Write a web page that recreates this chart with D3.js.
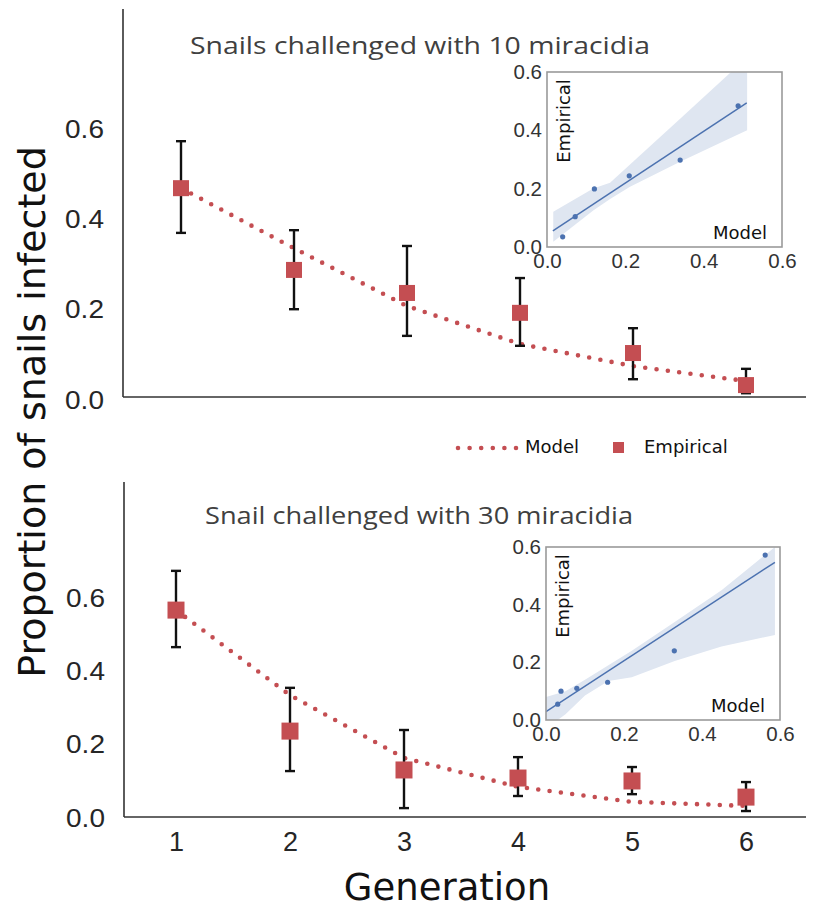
<!DOCTYPE html>
<html>
<head>
<meta charset="utf-8">
<script src="https://cdn.jsdelivr.net/npm/d3@7"></script>
<style>
  html, body { margin: 0; padding: 0; background: #fff; }
  svg { display: block; }
</style>
</head>
<body>
<svg id="chart" width="814" height="907"></svg>
<script>
// ---------------- DATA ----------------
const generations = [1, 2, 3, 4, 5, 6];
const yTickValues = [0, 0.2, 0.4, 0.6];
const insetTickValues = [0, 0.2, 0.4, 0.6];

// Top panel: 10 miracidia
const topModel = [0.469, 0.336, 0.208, 0.124, 0.075, 0.042];
const topEmpirical = [0.469, 0.288, 0.237, 0.193, 0.104, 0.033];
const topLower = [0.370, 0.201, 0.142, 0.120, 0.046, 0.015];
const topUpper = [0.573, 0.376, 0.341, 0.270, 0.159, 0.069];

// Bottom panel: 30 miracidia
const botModel = [0.567, 0.335, 0.164, 0.085, 0.044, 0.033];
const botEmpirical = [0.567, 0.237, 0.131, 0.109, 0.101, 0.057];
const botLower = [0.466, 0.128, 0.027, 0.060, 0.065, 0.019];
const botUpper = [0.674, 0.355, 0.240, 0.166, 0.139, 0.098];

// Insets (Model vs Empirical regression)
const topInsetModel = [0.040, 0.072, 0.121, 0.210, 0.340, 0.488];
const topInsetEmp = [0.035, 0.104, 0.199, 0.244, 0.298, 0.484];
const topFitX = [0.015, 0.51];
const topFitY = [0.055, 0.494];
const topBandX = [0.016, 0.118, 0.161, 0.212, 0.34, 0.47, 0.511];
const topBandHi = [0.121, 0.201, 0.220, 0.283, 0.44, 0.60, 0.66];
const topBandLo = [0.018, 0.125, 0.165, 0.207, 0.292, 0.375, 0.40];

const botInsetModel = [0.030, 0.0385, 0.079, 0.158, 0.329, 0.562];
const botInsetEmp = [0.055, 0.100, 0.110, 0.131, 0.240, 0.572];
const botFitX = [0.0, 0.587];
const botFitY = [0.029, 0.547];
const botBandX = [0.0, 0.05, 0.1, 0.16, 0.22, 0.33, 0.45, 0.587];
const botBandHi = [0.08, 0.10, 0.14, 0.19, 0.24, 0.34, 0.45, 0.60];
const botBandLo = [-0.03, 0.02, 0.085, 0.135, 0.148, 0.205, 0.255, 0.295];

// ---------------- STYLE ----------------
const RED = "#c44e52";
const BLUE = "#4c72b0";
const BAND = "#dfe6f1";
const TICKFONT = "'Liberation Sans', Arial, sans-serif";
const DEJAVU = "'DejaVu Sans', sans-serif";

const svg = d3.select("#chart");

function panel(cfg) {
  const g = svg.append("g");
  const x = d3.scaleLinear().domain([1, 6]).range(cfg.xRange);
  const y = d3.scaleLinear().domain([0, 0.6]).range(cfg.yRange);

  // axis spines
  g.append("line").attr("x1", cfg.left).attr("x2", cfg.left)
    .attr("y1", cfg.top).attr("y2", cfg.base)
    .attr("stroke", "#333").attr("stroke-width", 1.6);
  g.append("line").attr("x1", cfg.left).attr("x2", cfg.right)
    .attr("y1", cfg.base).attr("y2", cfg.base)
    .attr("stroke", "#333").attr("stroke-width", 1.6);

  // y tick labels
  const ya = g.append("g").attr("transform", `translate(${cfg.left},0)`)
    .call(d3.axisLeft(y).tickValues(yTickValues).tickFormat(d3.format(".1f"))
      .tickSize(0).tickPadding(17));
  ya.select(".domain").remove();
  ya.selectAll("text").attr("font-family", TICKFONT).attr("font-size", 25)
    .attr("fill", "#262626").attr("transform", "scale(1.12,1)");

  // title
  g.append("text").attr("x", cfg.titleX).attr("y", cfg.titleY)
    .attr("font-family", "'Open Sans', sans-serif").attr("font-size", 23)
    .attr("fill", "#404040")
    .attr("textLength", cfg.titleW).attr("lengthAdjust", "spacingAndGlyphs")
    .text(cfg.title);

  // model dotted line
  const line = d3.line().x((d, i) => x(generations[i])).y(d => y(d));
  g.append("path").datum(cfg.model).attr("d", line)
    .attr("fill", "none").attr("stroke", RED).attr("stroke-width", 4.6)
    .attr("stroke-linecap", "round").attr("stroke-dasharray", "0 11.4");

  // error bars
  const eb = g.append("g");
  generations.forEach((gen, i) => {
    const cx = x(gen);
    eb.append("line").attr("x1", cx).attr("x2", cx)
      .attr("y1", y(cfg.lo[i])).attr("y2", y(cfg.hi[i]))
      .attr("stroke", "#111").attr("stroke-width", 2.4);
    [cfg.lo[i], cfg.hi[i]].forEach(v => {
      eb.append("line").attr("x1", cx - 5).attr("x2", cx + 5)
        .attr("y1", y(v)).attr("y2", y(v))
        .attr("stroke", "#111").attr("stroke-width", 2.4);
    });
  });

  // empirical squares
  const s = cfg.sq;
  g.append("g").selectAll("rect").data(cfg.emp).join("rect")
    .attr("x", (d, i) => x(generations[i]) - s / 2)
    .attr("y", d => y(d) - s / 2)
    .attr("width", s).attr("height", s)
    .attr("fill", RED);

  return { g, x, y };
}

function inset(cfg) {
  const g = svg.append("g");
  const x = d3.scaleLinear().domain([0, 0.6]).range(cfg.xRange);
  const y = d3.scaleLinear().domain([0, 0.6]).range(cfg.yRange);
  const [x0, x1] = cfg.xRange, [y0, y1] = cfg.yRange;
  const clipId = cfg.id + "-clip";
  svg.append("clipPath").attr("id", clipId).append("rect")
    .attr("x", x0).attr("y", y1).attr("width", x1 - x0).attr("height", y0 - y1);

  g.append("rect").attr("x", x0).attr("y", y1)
    .attr("width", x1 - x0).attr("height", y0 - y1).attr("fill", "#fff");

  const inner = g.append("g").attr("clip-path", `url(#${clipId})`);
  const area = d3.area()
    .x((d, i) => x(cfg.bandX[i]))
    .y0((d, i) => y(cfg.bandLo[i]))
    .y1((d, i) => y(cfg.bandHi[i]));
  inner.append("path").datum(cfg.bandX).attr("d", area).attr("fill", BAND);
  inner.append("line")
    .attr("x1", x(cfg.fitX[0])).attr("y1", y(cfg.fitY[0]))
    .attr("x2", x(cfg.fitX[1])).attr("y2", y(cfg.fitY[1]))
    .attr("stroke", BLUE).attr("stroke-width", 1.5);
  inner.selectAll("circle").data(cfg.model).join("circle")
    .attr("cx", d => x(d)).attr("cy", (d, i) => y(cfg.emp[i]))
    .attr("r", 2.6).attr("fill", BLUE);

  g.append("rect").attr("x", x0).attr("y", y1)
    .attr("width", x1 - x0).attr("height", y0 - y1)
    .attr("fill", "none").attr("stroke", "#9a9a9a").attr("stroke-width", 1.6);

  const ya = g.append("g").attr("transform", `translate(${x0},0)`)
    .call(d3.axisLeft(y).tickValues(insetTickValues).tickFormat(d3.format(".1f"))
      .tickSize(0).tickPadding(5));
  ya.select(".domain").remove();
  ya.selectAll("text").attr("font-family", TICKFONT).attr("font-size", 20.5).attr("fill", "#333");

  const xa = g.append("g").attr("transform", `translate(0,${y0})`)
    .call(d3.axisBottom(x).tickValues(insetTickValues).tickFormat(d3.format(".1f"))
      .tickSize(0).tickPadding(6));
  xa.select(".domain").remove();
  xa.selectAll("text").attr("font-family", TICKFONT).attr("font-size", 20.5).attr("fill", "#333");

  g.append("text")
    .attr("transform", `translate(${x0 + 23},${cfg.empY}) rotate(-90)`)
    .attr("text-anchor", "middle").attr("font-family", DEJAVU)
    .attr("font-size", 18).attr("fill", "#111").text("Empirical");
  g.append("text").attr("x", x1 - 15).attr("y", y0 - 8)
    .attr("text-anchor", "end").attr("font-family", DEJAVU)
    .attr("font-size", 18).attr("fill", "#111").text("Model");
}

// ---------------- PANELS ----------------
panel({
  xRange: [181, 746], yRange: [400, 129],
  left: 123, right: 806, top: 9, base: 397,
  title: "Snails challenged with 10 miracidia", titleX: 190, titleY: 54, titleW: 460,
  model: topModel, emp: topEmpirical, lo: topLower, hi: topUpper, sq: 16
});

panel({
  xRange: [176, 746], yRange: [818, 598],
  left: 124, right: 806, top: 482, base: 817,
  title: "Snail challenged with 30 miracidia", titleX: 205, titleY: 524, titleW: 428,
  model: botModel, emp: botEmpirical, lo: botLower, hi: botUpper, sq: 17
});

// bottom x tick labels
const xb = d3.scaleLinear().domain([1, 6]).range([176, 746]);
const xAx = svg.append("g").attr("transform", "translate(0,817)")
  .call(d3.axisBottom(xb).tickValues(generations).tickFormat(d3.format("d"))
    .tickSize(0).tickPadding(15));
xAx.select(".domain").remove();
xAx.selectAll("text").attr("font-family", TICKFONT).attr("font-size", 27).attr("fill", "#262626");

inset({
  id: "inTop", xRange: [547, 782], yRange: [247, 72],
  bandX: topBandX, bandHi: topBandHi, bandLo: topBandLo,
  fitX: topFitX, fitY: topFitY, model: topInsetModel, emp: topInsetEmp, empY: 121
});
inset({
  id: "inBot", xRange: [546, 780], yRange: [720, 547],
  bandX: botBandX, bandHi: botBandHi, bandLo: botBandLo,
  fitX: botFitX, fitY: botFitY, model: botInsetModel, emp: botInsetEmp, empY: 596
});

// ---------------- LEGEND ----------------
const lg = svg.append("g");
lg.append("line").attr("x1", 458).attr("x2", 516).attr("y1", 448).attr("y2", 448)
  .attr("stroke", RED).attr("stroke-width", 4.6).attr("stroke-linecap", "round")
  .attr("stroke-dasharray", "0 11.6");
lg.append("text").attr("x", 525).attr("y", 453).attr("font-family", DEJAVU)
  .attr("font-size", 18).attr("fill", "#111").text("Model");
lg.append("rect").attr("x", 613).attr("y", 442).attr("width", 11).attr("height", 11).attr("fill", RED);
lg.append("text").attr("x", 644).attr("y", 453).attr("font-family", DEJAVU)
  .attr("font-size", 18).attr("fill", "#111").text("Empirical");

// ---------------- AXIS TITLES ----------------
svg.append("text").attr("x", 447).attr("y", 900).attr("text-anchor", "middle")
  .attr("font-family", DEJAVU).attr("font-size", 37).attr("fill", "#111").text("Generation");
svg.append("text").attr("transform", "translate(45,412) rotate(-90)")
  .attr("text-anchor", "middle").attr("font-family", DEJAVU)
  .attr("font-size", 38).attr("fill", "#111").text("Proportion of snails infected");
</script>
</body>
</html>
